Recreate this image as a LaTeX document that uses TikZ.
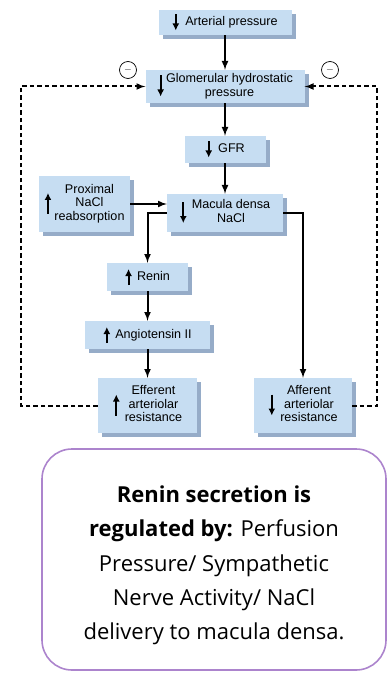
\documentclass[tikz,border=0pt]{standalone}
\usepackage{fontspec}
\setmainfont{Liberation Sans}
\newfontfamily\notefont{Open Sans}
\usetikzlibrary{arrows.meta,shadows}

\definecolor{boxblue}{RGB}{198,221,242}
\definecolor{shadeblue}{RGB}{150,172,200}
\definecolor{notepurple}{RGB}{172,132,205}

% thick up/down arrows inside the boxes
\newcommand{\dnarr}[1]{\tikz[baseline=0pt]\draw[line width=2pt,-{Latex[length=7pt,width=7pt]}] (0pt,3.5pt+#1pt/2) -- (0pt,3.5pt-#1pt/2);}
\newcommand{\uparr}[1]{\tikz[baseline=0pt]\draw[line width=2pt,-{Latex[length=7pt,width=7pt]}] (0pt,3.5pt-#1pt/2) -- (0pt,3.5pt+#1pt/2);}

\tikzset{
    box/.style={fill=boxblue, inner sep=2pt, align=center,
        font=\fontsize{12.6}{13.6}\selectfont,
        drop shadow={shadow xshift=4pt, shadow yshift=-4pt, fill=shadeblue, opacity=1}},
    flow/.style={->, >=latex, line width=2pt},
    feedback/.style={->, >=latex, line width=2pt, dash pattern=on 4.5pt off 3pt},
    minus/.style={circle, draw, line width=0.7pt, minimum size=17pt, inner sep=0pt, font=\normalsize},
    notebox/.style={draw=notepurple, line width=1.6pt, rounded corners=30pt},
}

\begin{document}
\begin{tikzpicture}[x=1pt, y=-1pt]

    \useasboundingbox (0,0) rectangle (388,676);

    \node[box, minimum width=133pt, minimum height=25pt] (art) at (225,22.5)
    {\dnarr{16}\hspace{6pt}Arterial pressure};
    \node[box, minimum width=159pt, minimum height=33pt] (glom) at (225,86.5)
    {\dnarr{21}\hspace{2pt}\begin{tabular}{@{}c@{}}Glomerular hydrostatic\\pressure\end{tabular}};
    \node[box, minimum width=81pt, minimum height=27pt] (gfr) at (225,149.5)
    {\dnarr{16}\hspace{6pt}GFR};
    \node[box, minimum width=91pt, minimum height=56pt] (prox) at (84.5,204)
    {\uparr{21}\hspace{3pt}\begin{tabular}{@{}c@{}}Proximal\\NaCl\\reabsorption\end{tabular}};
    \node[box, minimum width=116pt, minimum height=38pt] (mac) at (225,213)
    {\dnarr{21}\hspace{5pt}\begin{tabular}{@{}c@{}}Macula densa\\NaCl\end{tabular}};
    \node[box, minimum width=81pt, minimum height=28pt] (ren) at (147.5,277)
    {\uparr{16}\hspace{5pt}Renin};
    \node[box, minimum width=125pt, minimum height=28pt] (ang) at (147.5,335)
    {\uparr{16}\hspace{5pt}Angiotensin II};
    \node[box, minimum width=99pt, minimum height=55pt] (eff) at (147.5,405.5)
    {\uparr{21}\hspace{5pt}\begin{tabular}{@{}c@{}}Efferent\\arteriolar\\resistance\end{tabular}};
    \node[box, minimum width=98pt, minimum height=55pt] (aff) at (303,405.5)
    {\dnarr{21}\hspace{5pt}\begin{tabular}{@{}c@{}}Afferent\\arteriolar\\resistance\end{tabular}};

    \draw[flow] (art) -- (glom);
    \draw[flow] (glom) -- (gfr);
    \draw[flow] (gfr) -- (mac);
    \draw[flow] (prox.east) -- (prox.east -| mac.west);
    \draw[flow] (mac.west) -| (ren.north);
    \draw[flow] (mac.east) -| (aff.north);
    \draw[flow] (ren) -- (ang);
    \draw[flow] (ang) -- (eff);

    \draw[feedback] (eff.west) -- ++(-77,0) |- (glom.west);
    \draw[feedback] (aff.east) -- ++(25,0) |- (glom.east);

    \node[minus] (minl) at (128,70) {$-$};
    \node[minus] (minr) at (330,70) {$-$};

    \node[notebox, minimum width=344pt, minimum height=221pt] (note) at (214,559.5) {};
    \node[align=center, font=\notefont\fontsize{22}{34.25}\selectfont] (notetext) at ([yshift=-6pt]note.center)
    {\textbf{Renin secretion is}\\\textbf{regulated by:} Perfusion\\Pressure/ Sympathetic\\Nerve Activity/ NaCl\\delivery to macula densa.};

\end{tikzpicture}
\end{document}
